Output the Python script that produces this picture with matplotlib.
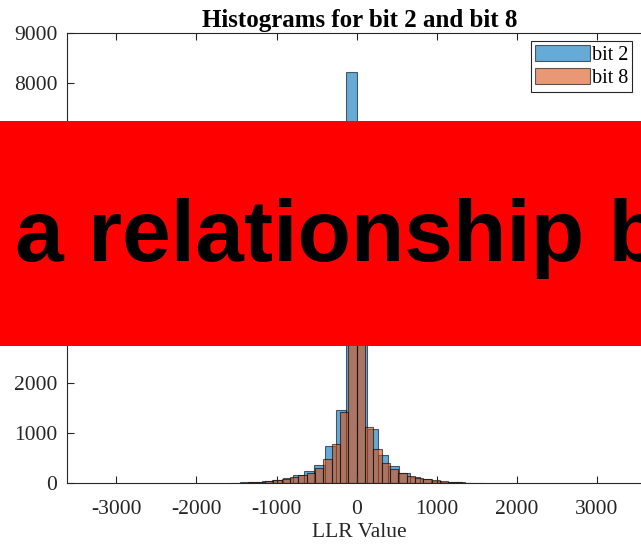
import matplotlib
matplotlib.use('Agg')
import matplotlib.pyplot as plt
from matplotlib.patches import Rectangle
import numpy as np

plt.rcParams['font.family'] = ['Liberation Serif', 'DejaVu Serif']
plt.rcParams['axes.unicode_minus'] = False

# Bin edges and counts
bit2_edges = np.arange(-1584, 1585, 132)
bit2_counts = [5, 10, 20, 35, 60, 100, 160, 247, 360, 740, 1460, 8214,
               5600, 1073, 560, 347, 193, 113, 70, 40, 25, 15, 8, 4]
bit8_edges = np.arange(-1456, 1457, 104)
bit8_counts = [6, 12, 20, 35, 55, 80, 110, 153, 207, 293, 473, 773, 1427, 6200,
               5800, 1113, 680, 407, 273, 193, 140, 93, 70, 50, 35, 25, 15, 8]

xticks = [-3000, -2000, -1000, 0, 1000, 2000, 3000]
yticks = [0, 1000, 2000, 3000, 4000, 5000, 6000, 7000, 8000, 9000]

fig = plt.figure(figsize=(6.41, 5.45), dpi=100)
ax = fig.add_axes([0.1045, 0.1138, 0.9126, 0.8257])

ax.bar(bit2_edges[:-1], bit2_counts, width=np.diff(bit2_edges), align='edge',
       color='#0072BD', alpha=0.6, edgecolor='black', linewidth=0.8, label='bit 2')
ax.bar(bit8_edges[:-1], bit8_counts, width=np.diff(bit8_edges), align='edge',
       color='#D95319', alpha=0.6, edgecolor='black', linewidth=0.8, label='bit 8')

ax.set_xlim(-3617, 3687)
ax.set_ylim(0, 9000)
ax.set_xticks(xticks)
ax.set_yticks(yticks)
ax.tick_params(direction='in', length=5, top=True, right=True,
               labelsize=15.5, colors='#262626')
ax.tick_params(axis='y', pad=7)
ax.tick_params(axis='x', pad=12)
for s in ax.spines.values():
    s.set_color('#262626')
    s.set_linewidth(0.8)

ax.set_xlabel('LLR Value', fontsize=15.5, color='#262626', labelpad=3)
ax.set_title('Histograms for bit 2 and bit 8', fontsize=18, fontweight='bold', pad=4.5)

leg = ax.legend(loc='upper right', bbox_to_anchor=(0.966, 0.982), fontsize=14.5,
                fancybox=False, framealpha=1, edgecolor='#262626',
                handlelength=2.7, handleheight=0.85, handletextpad=0.1,
                borderpad=0.2, labelspacing=0.15, borderaxespad=0)
leg.get_frame().set_linewidth(0.8)

# Red banner overlay
fig.patches.append(Rectangle((0, (545 - 346) / 545), 1, 225 / 545,
                             transform=fig.transFigure, facecolor='#FF0000',
                             edgecolor='none', zorder=10))
fig.text(15 / 641, (545 - 261) / 545, 'a relationship b', fontsize=63,
         fontweight='bold', family='Liberation Sans', color='black',
         va='baseline', ha='left', zorder=11)

plt.savefig('out.png', dpi=100, facecolor='white')
